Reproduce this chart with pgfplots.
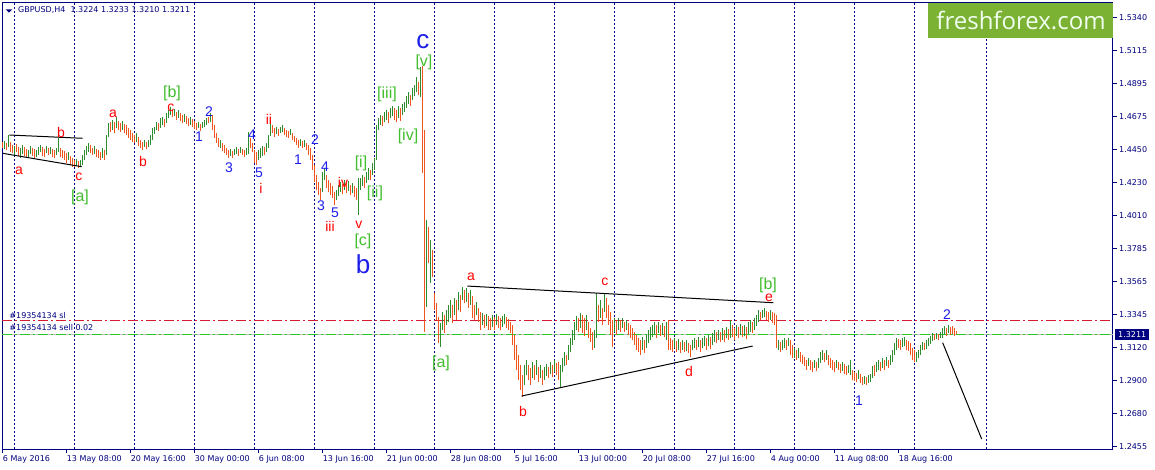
\documentclass[border=0pt]{standalone}
\usepackage{pgfplots}
\pgfplotsset{compat=1.18}
\usepackage{pgfplotstable}
\usepackage{fontspec}
\setmainfont{DejaVu Sans}
\newfontfamily\lab{Liberation Sans}
\newfontfamily\ffont{Open Sans}
\definecolor{navy}{RGB}{0,0,128}
\definecolor{barup}{RGB}{45,140,45}
\definecolor{bardn}{RGB}{240,85,30}
\definecolor{slred}{RGB}{215,25,50}
\definecolor{ordgreen}{RGB}{40,200,40}
\definecolor{wlgreen}{RGB}{65,190,45}
\definecolor{wlblue}{RGB}{30,30,235}
\definecolor{ffgreen}{RGB}{124,178,52}
\tikzset{
  rl/.style={text=red, font=\lab\fontsize{14bp}{14bp}\selectfont, inner sep=0pt},
  bn/.style={text=wlblue, font=\lab\fontsize{14bp}{14bp}\selectfont, inner sep=0pt},
  gl/.style={text=wlgreen, font=\lab\fontsize{16bp}{16bp}\selectfont, inner sep=0pt},
  BL/.style={text=wlblue, font=\lab\fontsize{26bp}{26bp}\selectfont, inner sep=0pt},
}

\pgfplotstableread{
i h l d
0 1.4502 1.4461 0
1 1.4509 1.4455 1
2 1.4495 1.4448 0
3 1.4549 1.4468 1
4 1.4502 1.4435 0
5 1.4482 1.4428 0
6 1.4475 1.4414 1
7 1.4488 1.4435 0
8 1.4468 1.4408 0
9 1.4461 1.4394 1
10 1.4482 1.4421 1
11 1.4468 1.4408 0
12 1.4455 1.4401 0
13 1.4448 1.4394 1
14 1.4475 1.4421 1
15 1.4461 1.4408 0
16 1.4455 1.4394 0
17 1.4448 1.4401 1
18 1.4468 1.4414 1
19 1.4482 1.4435 1
20 1.4468 1.4408 0
21 1.4455 1.4401 0
22 1.4475 1.4428 1
23 1.4461 1.4414 0
24 1.4468 1.4421 1
25 1.4455 1.4401 0
26 1.4448 1.4394 0
27 1.4461 1.4414 1
28 1.4529 1.4435 1
29 1.4461 1.4401 0
30 1.4448 1.4394 0
31 1.4441 1.4381 0
32 1.4428 1.4361 0
33 1.4435 1.4381 1
34 1.4408 1.4347 0
35 1.4394 1.4334 0
36 1.4381 1.4334 0
37 1.4387 1.4340 1
38 1.4374 1.4327 0
39 1.4381 1.4334 1
40 1.4414 1.4347 1
41 1.4448 1.4381 1
42 1.4475 1.4414 1
43 1.4495 1.4435 1
44 1.4482 1.4428 0
45 1.4461 1.4414 0
46 1.4475 1.4421 1
47 1.4455 1.4401 0
48 1.4448 1.4394 0
49 1.4435 1.4381 0
50 1.4461 1.4394 1
51 1.4448 1.4381 0
52 1.4549 1.4414 1
53 1.4629 1.4535 1
54 1.4636 1.4569 0
55 1.4650 1.4582 1
56 1.4636 1.4562 0
57 1.4670 1.4596 1
58 1.4643 1.4582 0
59 1.4629 1.4569 0
60 1.4643 1.4582 1
61 1.4623 1.4562 0
62 1.4616 1.4549 0
63 1.4596 1.4529 0
64 1.4582 1.4515 0
65 1.4562 1.4502 0
66 1.4549 1.4495 0
67 1.4562 1.4502 1
68 1.4535 1.4475 0
69 1.4515 1.4461 0
70 1.4502 1.4448 0
71 1.4515 1.4468 1
72 1.4502 1.4455 0
73 1.4515 1.4468 1
74 1.4549 1.4482 1
75 1.4596 1.4515 1
76 1.4603 1.4556 1
77 1.4636 1.4582 1
78 1.4629 1.4576 0
79 1.4663 1.4596 1
80 1.4670 1.4616 1
81 1.4656 1.4603 0
82 1.4697 1.4629 1
83 1.4717 1.4663 1
84 1.4737 1.4683 1
85 1.4717 1.4670 0
86 1.4724 1.4676 1
87 1.4703 1.4650 0
88 1.4717 1.4663 1
89 1.4697 1.4643 0
90 1.4683 1.4629 0
91 1.4690 1.4636 1
92 1.4676 1.4623 0
93 1.4663 1.4609 0
94 1.4670 1.4616 1
95 1.4656 1.4603 0
96 1.4643 1.4589 0
97 1.4629 1.4582 0
98 1.4636 1.4596 1
99 1.4623 1.4576 0
100 1.4636 1.4596 1
101 1.4650 1.4603 1
102 1.4663 1.4616 1
103 1.4670 1.4629 0
104 1.4697 1.4636 1
105 1.4683 1.4582 0
106 1.4616 1.4529 0
107 1.4562 1.4495 0
108 1.4529 1.4468 0
109 1.4515 1.4461 1
110 1.4495 1.4441 0
111 1.4482 1.4428 0
112 1.4461 1.4414 0
113 1.4448 1.4394 0
114 1.4455 1.4408 1
115 1.4441 1.4394 0
116 1.4455 1.4414 1
117 1.4468 1.4421 1
118 1.4455 1.4408 0
119 1.4468 1.4428 1
120 1.4455 1.4414 0
121 1.4448 1.4401 0
122 1.4461 1.4414 1
123 1.4569 1.4421 1
124 1.4529 1.4461 0
125 1.4495 1.4435 0
126 1.4448 1.4361 0
127 1.4435 1.4347 0
128 1.4448 1.4381 1
129 1.4461 1.4394 1
130 1.4475 1.4408 1
131 1.4468 1.4414 0
132 1.4495 1.4435 1
133 1.4549 1.4461 1
134 1.4650 1.4542 1
135 1.4616 1.4562 0
136 1.4596 1.4535 0
137 1.4603 1.4556 1
138 1.4589 1.4542 0
139 1.4603 1.4562 1
140 1.4616 1.4569 1
141 1.4596 1.4549 0
142 1.4582 1.4535 0
143 1.4576 1.4529 0
144 1.4589 1.4549 1
145 1.4562 1.4515 0
146 1.4542 1.4502 0
147 1.4529 1.4482 0
148 1.4515 1.4461 0
149 1.4522 1.4475 1
150 1.4509 1.4461 0
151 1.4515 1.4468 1
152 1.4495 1.4448 0
153 1.4482 1.4414 0
154 1.4461 1.4381 0
155 1.4414 1.4314 0
156 1.4347 1.4233 0
157 1.4280 1.4179 0
158 1.4233 1.4146 0
159 1.4193 1.4112 0
160 1.4300 1.4166 1
161 1.4327 1.4246 1
162 1.4280 1.4193 0
163 1.4246 1.4166 0
164 1.4226 1.4146 0
165 1.4206 1.4125 0
166 1.4166 1.4078 0
167 1.4179 1.4112 1
168 1.4213 1.4139 1
169 1.4233 1.4166 1
170 1.4219 1.4152 0
171 1.4246 1.4179 1
172 1.4226 1.4159 0
173 1.4240 1.4172 1
174 1.4213 1.4146 0
175 1.4226 1.4159 1
176 1.4206 1.4132 0
177 1.4193 1.4112 0
178 1.4260 1.4011 1
179 1.4260 1.4179 1
180 1.4280 1.4206 1
181 1.4266 1.4193 0
182 1.4300 1.4226 1
183 1.4327 1.4246 1
184 1.4314 1.4246 0
185 1.4361 1.4280 1
186 1.4394 1.4314 1
187 1.4616 1.4381 1
188 1.4663 1.4582 1
189 1.4683 1.4616 1
190 1.4676 1.4609 0
191 1.4703 1.4636 1
192 1.4717 1.4650 1
193 1.4703 1.4629 0
194 1.4730 1.4663 1
195 1.4744 1.4676 1
196 1.4730 1.4650 0
197 1.4717 1.4636 0
198 1.4744 1.4663 1
199 1.4730 1.4643 0
200 1.4757 1.4683 1
201 1.4771 1.4703 1
202 1.4811 1.4730 1
203 1.4838 1.4757 1
204 1.4818 1.4744 0
205 1.4865 1.4784 1
206 1.4885 1.4811 1
207 1.4939 1.4838 1
208 1.4905 1.4818 0
209 1.5006 1.4804 1
210 1.5012 1.4294 0
211 1.4582 1.3225 0
212 1.3978 1.3393 1
213 1.3931 1.3689 0
214 1.3843 1.3554 1
215 1.3776 1.3595 0
216 1.3487 1.3373 0
217 1.3420 1.3306 0
218 1.3326 1.3151 0
219 1.3285 1.3124 1
220 1.3359 1.3238 1
221 1.3339 1.3218 0
222 1.3373 1.3272 1
223 1.3406 1.3292 1
224 1.3440 1.3319 1
225 1.3406 1.3285 0
226 1.3453 1.3339 1
227 1.3440 1.3306 0
228 1.3494 1.3373 1
229 1.3474 1.3359 0
230 1.3527 1.3440 1
231 1.3507 1.3420 0
232 1.3520 1.3426 1
233 1.3487 1.3386 0
234 1.3507 1.3406 1
235 1.3467 1.3319 0
236 1.3406 1.3306 0
237 1.3426 1.3339 1
238 1.3386 1.3292 0
239 1.3359 1.3238 0
240 1.3353 1.3272 1
241 1.3339 1.3252 0
242 1.3346 1.3265 1
243 1.3332 1.3238 0
244 1.3319 1.3238 0
245 1.3339 1.3259 1
246 1.3326 1.3238 0
247 1.3346 1.3272 1
248 1.3332 1.3252 0
249 1.3319 1.3238 0
250 1.3332 1.3259 1
251 1.3346 1.3279 1
252 1.3326 1.3252 0
253 1.3312 1.3238 0
254 1.3292 1.3218 0
255 1.3272 1.3138 0
256 1.3205 1.3037 0
257 1.3138 1.2970 0
258 1.3070 1.2902 0
259 1.3003 1.2835 0
260 1.2936 1.2788 0
261 1.3003 1.2869 1
262 1.3037 1.2936 1
263 1.3003 1.2902 0
264 1.2983 1.2869 0
265 1.3023 1.2916 1
266 1.3003 1.2902 0
267 1.3037 1.2936 1
268 1.2990 1.2889 0
269 1.3003 1.2916 1
270 1.2970 1.2869 0
271 1.2990 1.2902 1
272 1.3010 1.2929 1
273 1.2990 1.2916 0
274 1.3023 1.2943 1
275 1.3003 1.2922 0
276 1.3037 1.2956 1
277 1.3017 1.2936 0
278 1.3023 1.2902 0
279 1.3003 1.2849 1
280 1.3050 1.2956 1
281 1.3091 1.2996 1
282 1.3070 1.3003 0
283 1.3138 1.3037 1
284 1.3185 1.3091 1
285 1.3238 1.3138 1
286 1.3292 1.3171 1
287 1.3332 1.3238 1
288 1.3319 1.3225 0
289 1.3353 1.3252 1
290 1.3339 1.3218 0
291 1.3319 1.3198 0
292 1.3339 1.3238 1
293 1.3292 1.3185 0
294 1.3252 1.3158 0
295 1.3225 1.3104 0
296 1.3238 1.3118 1
297 1.3487 1.3185 1
298 1.3406 1.3292 0
299 1.3440 1.3319 1
300 1.3386 1.3272 0
301 1.3487 1.3359 1
302 1.3453 1.3319 0
303 1.3406 1.3272 0
304 1.3359 1.3205 0
305 1.3306 1.3124 0
306 1.3319 1.3225 1
307 1.3306 1.3205 0
308 1.3319 1.3238 1
309 1.3306 1.3225 0
310 1.3319 1.3252 1
311 1.3292 1.3225 0
312 1.3306 1.3238 1
313 1.3285 1.3205 0
314 1.3272 1.3185 0
315 1.3252 1.3171 0
316 1.3225 1.3138 0
317 1.3205 1.3104 0
318 1.3185 1.3091 0
319 1.3171 1.3070 0
320 1.3191 1.3104 1
321 1.3171 1.3084 0
322 1.3205 1.3118 1
323 1.3238 1.3151 1
324 1.3259 1.3171 1
325 1.3272 1.3191 1
326 1.3292 1.3205 1
327 1.3272 1.3185 0
328 1.3292 1.3218 1
329 1.3272 1.3198 0
330 1.3285 1.3205 1
331 1.3265 1.3191 0
332 1.3292 1.3171 1
333 1.3306 1.3104 0
334 1.3185 1.3104 0
335 1.3171 1.3091 0
336 1.3185 1.3118 1
337 1.3165 1.3091 0
338 1.3178 1.3104 1
339 1.3158 1.3084 0
340 1.3171 1.3104 1
341 1.3158 1.3091 0
342 1.3171 1.3097 1
343 1.3151 1.3084 0
344 1.3138 1.3057 0
345 1.3171 1.3104 1
346 1.3185 1.3118 1
347 1.3171 1.3104 0
348 1.3191 1.3124 1
349 1.3171 1.3091 0
350 1.3185 1.3118 1
351 1.3198 1.3131 1
352 1.3185 1.3104 0
353 1.3205 1.3131 1
354 1.3191 1.3111 0
355 1.3218 1.3138 1
356 1.3238 1.3158 1
357 1.3225 1.3151 0
358 1.3238 1.3171 1
359 1.3225 1.3158 0
360 1.3252 1.3171 1
361 1.3238 1.3158 0
362 1.3259 1.3185 1
363 1.3245 1.3171 0
364 1.3306 1.3185 1
365 1.3272 1.3191 0
366 1.3252 1.3171 0
367 1.3272 1.3198 1
368 1.3259 1.3185 0
369 1.3279 1.3205 1
370 1.3265 1.3191 0
371 1.3272 1.3198 1
372 1.3259 1.3178 0
373 1.3292 1.3211 1
374 1.3306 1.3225 1
375 1.3292 1.3218 0
376 1.3319 1.3238 1
377 1.3339 1.3265 1
378 1.3373 1.3292 1
379 1.3359 1.3306 0
380 1.3373 1.3319 1
381 1.3386 1.3326 1
382 1.3366 1.3306 0
383 1.3359 1.3292 0
384 1.3373 1.3306 1
385 1.3359 1.3285 0
386 1.3353 1.3272 0
387 1.3339 1.3118 0
388 1.3171 1.3104 1
389 1.3158 1.3091 0
390 1.3171 1.3104 1
391 1.3185 1.3118 1
392 1.3171 1.3104 0
393 1.3185 1.3131 1
394 1.3171 1.3070 0
395 1.3138 1.3050 0
396 1.3118 1.3050 1
397 1.3104 1.3037 0
398 1.3118 1.3050 1
399 1.3091 1.3023 0
400 1.3070 1.3010 0
401 1.3057 1.2996 0
402 1.3037 1.2970 0
403 1.3050 1.2996 1
404 1.3037 1.2970 0
405 1.3023 1.2956 0
406 1.3037 1.2983 1
407 1.3023 1.2963 0
408 1.3050 1.2983 1
409 1.3091 1.3017 1
410 1.3104 1.3037 1
411 1.3084 1.3023 0
412 1.3104 1.3037 1
413 1.3070 1.3003 0
414 1.3050 1.2983 0
415 1.3037 1.2970 0
416 1.3023 1.2956 0
417 1.3037 1.2983 1
418 1.3023 1.2970 0
419 1.3010 1.2950 0
420 1.3023 1.2963 1
421 1.3010 1.2943 0
422 1.2996 1.2936 0
423 1.3003 1.2950 1
424 1.3037 1.2936 1
425 1.2970 1.2902 0
426 1.2956 1.2896 0
427 1.2950 1.2889 0
428 1.2970 1.2909 1
429 1.2943 1.2882 0
430 1.2922 1.2869 0
431 1.2929 1.2875 1
432 1.2922 1.2869 0
433 1.2936 1.2882 1
434 1.2943 1.2889 1
435 1.2996 1.2916 1
436 1.3003 1.2929 0
437 1.3023 1.2956 1
438 1.3037 1.2970 1
439 1.3023 1.2963 0
440 1.3050 1.2983 1
441 1.3037 1.2970 0
442 1.3057 1.2996 1
443 1.3037 1.2983 0
444 1.3070 1.3003 1
445 1.3104 1.3023 1
446 1.3151 1.3070 1
447 1.3185 1.3104 1
448 1.3178 1.3118 0
449 1.3171 1.3104 0
450 1.3185 1.3124 1
451 1.3191 1.3131 1
452 1.3171 1.3104 0
453 1.3165 1.3097 0
454 1.3151 1.3070 0
455 1.3118 1.3037 0
456 1.3104 1.3023 0
457 1.3091 1.3023 1
458 1.3104 1.3050 1
459 1.3138 1.3070 1
460 1.3158 1.3104 1
461 1.3151 1.3104 0
462 1.3171 1.3111 1
463 1.3185 1.3131 1
464 1.3198 1.3145 1
465 1.3218 1.3165 1
466 1.3211 1.3171 0
467 1.3218 1.3178 1
468 1.3211 1.3171 0
469 1.3225 1.3185 1
470 1.3252 1.3185 1
471 1.3265 1.3211 1
472 1.3252 1.3198 0
473 1.3272 1.3218 1
474 1.3259 1.3205 0
475 1.3265 1.3211 0
476 1.3252 1.3198 0
477 1.3233 1.3210 0
}\bars

\begin{document}
\begin{tikzpicture}
\path[use as bounding box, fill=white] (0,0) rectangle (1155bp,470bp);
\begin{axis}[
  scale only axis, width=1111bp, height=446bp,
  at={(2bp,21bp)}, anchor=south west,
  xmin=-0.35, xmax=555.15, ymin=1.24390, ymax=1.54361,
  clip=false,
  axis line style={draw=navy, line width=1bp},
  tick style={draw=navy, line width=1bp},
  major tick length=4bp, tick align=outside,
  xtick pos=bottom, ytick pos=right, yticklabel pos=right,
  xtick={0,32,...,448},
  xticklabels={6 May 2016,13 May 08:00,20 May 16:00,30 May 00:00,6 Jun 08:00,13 Jun 16:00,21 Jun 00:00,28 Jun 08:00,5 Jul 16:00,13 Jul 00:00,20 Jul 08:00,27 Jul 16:00,4 Aug 00:00,11 Aug 08:00,18 Aug 16:00},
  xticklabel style={anchor=north west, inner sep=0pt, text=navy, font=\fontsize{8bp}{9bp}\selectfont, yshift=-2bp},
  ytick={1.5340,1.5115,1.4895,1.4675,1.4450,1.4230,1.4010,1.3785,1.3565,1.3345,1.3120,1.2900,1.2680,1.2455},
  yticklabels={1.5340,1.5115,1.4895,1.4675,1.4450,1.4230,1.4010,1.3785,1.3565,1.3345,1.3120,1.2900,1.2680,1.2455},
  yticklabel style={anchor=west, inner sep=0pt, text=navy, font=\fontsize{8bp}{9bp}\selectfont, xshift=2bp},
  extra x ticks={6,36,66,96,126,156,186,216,246,276,306,336,366,396,426,456,492},
  extra x tick labels={},
  extra x tick style={grid=major, major tick length=0pt},
  major grid style={draw=navy, line width=1bp, dash pattern=on 2bp off 2bp},
  /pgf/number format/assume math mode=true,
]
% order lines
\addplot[draw=black!25, line width=1bp, forget plot] coordinates {(-0.35,1.3210) (555.15,1.3210)};
\addplot[draw=ordgreen, line width=1bp, dash pattern=on 10bp off 3bp on 2bp off 3bp, forget plot] coordinates {(-0.35,1.3210) (555.15,1.3210)};
\addplot[draw=slred, line width=1bp, dash pattern=on 10bp off 3bp on 2bp off 3bp, forget plot] coordinates {(-0.35,1.3301) (555.15,1.3301)};
% bars
\addplot[draw=none, mark=none, forget plot,
  restrict expr to domain={\thisrow{d}}{0.5:1.5},
  error bars/.cd, y dir=plus, y explicit, error mark=none,
  error bar style={draw=barup, line width=0.9bp}]
  table[x=i, y=l, y error expr=\thisrow{h}-\thisrow{l}]{\bars};
\addplot[draw=none, mark=none, forget plot,
  restrict expr to domain={\thisrow{d}}{-0.5:0.5},
  error bars/.cd, y dir=plus, y explicit, error mark=none,
  error bar style={draw=bardn, line width=0.9bp}]
  table[x=i, y=l, y error expr=\thisrow{h}-\thisrow{l}]{\bars};
% trend lines
\addplot[black, line width=1bp] coordinates {(3.3,1.4549) (39.9,1.4527)};
\addplot[black, line width=1bp] coordinates {(0,1.4426) (39.5,1.4336)};
\addplot[black, line width=1bp] coordinates {(232.3,1.3534) (385.3,1.3422)};
\addplot[black, line width=1bp] coordinates {(259.5,1.2795) (375,1.3131)};
\addplot[black, line width=1bp] coordinates {(470,1.3153) (489.5,1.2506)};
% order labels
\node[anchor=west, inner sep=0pt, text=navy, font=\fontsize{8bp}{9bp}\selectfont] at (axis cs:3.3,1.3339) {\#19354134 sl};
\node[anchor=west, inner sep=0pt, text=navy, font=\fontsize{8bp}{9bp}\selectfont] at (axis cs:3.3,1.3252) {\#19354134 sell 0.02};
% red labels
\node[rl] at (axis cs:8.15,1.4307) {a};
\node[rl] at (axis cs:29.15,1.4569) {b};
\node[rl] at (axis cs:38.15,1.4267) {c};
\node[rl] at (axis cs:55.15,1.4690) {a};
\node[rl] at (axis cs:70.15,1.4368) {b};
\node[rl] at (axis cs:84.15,1.4730) {c};
\node[rl] at (axis cs:129.15,1.4193) {i};
\node[rl] at (axis cs:133.15,1.4657) {ii};
\node[rl] at (axis cs:163.65,1.3938) {iii};
\node[rl] at (axis cs:170.15,1.4233) {iv};
\node[rl] at (axis cs:178.15,1.3944) {v};
\node[rl] at (axis cs:234.15,1.3595) {a};
\node[rl] at (axis cs:260.15,1.2688) {b};
\node[rl] at (axis cs:301.15,1.3561) {c};
\node[rl] at (axis cs:343.15,1.2957) {d};
\node[rl] at (axis cs:383.15,1.3454) {e};
% blue numbers
\node[bn] at (axis cs:98.15,1.4536) {1};
\node[bn] at (axis cs:103.15,1.4704) {2};
\node[bn] at (axis cs:113.15,1.4327) {3};
\node[bn] at (axis cs:124.65,1.4549) {4};
\node[bn] at (axis cs:128.15,1.4294) {5};
\node[bn] at (axis cs:147.65,1.4381) {1};
\node[bn] at (axis cs:156.15,1.4516) {2};
\node[bn] at (axis cs:159.15,1.4072) {3};
\node[bn] at (axis cs:161.15,1.4334) {4};
\node[bn] at (axis cs:166.15,1.4025) {5};
\node[bn] at (axis cs:428.15,1.2762) {1};
\node[bn] at (axis cs:472.15,1.3340) {2};
% green labels
\node[gl] at (axis cs:38.65,1.4133) {[a]};
\node[gl] at (axis cs:84.65,1.4832) {[b]};
\node[gl] at (axis cs:179.15,1.4361) {[i]};
\node[gl] at (axis cs:186.15,1.4159) {[ii]};
\node[gl] at (axis cs:192.15,1.4825) {[iii]};
\node[gl] at (axis cs:202.65,1.4542) {[iv]};
\node[gl] at (axis cs:210.65,1.5040) {[v]};
\node[gl] at (axis cs:180.15,1.3837) {[c]};
\node[gl] at (axis cs:219.15,1.3017) {[a]};
\node[gl] at (axis cs:382.65,1.3541) {[b]};
% big blue
\node[BL] at (axis cs:210.15,1.5174) {c};
\node[BL] at (axis cs:180.15,1.3682) {b};
\end{axis}
% header
\fill[navy] (5.7bp,460.7bp) -- (12.3bp,460.7bp) -- (9bp,457.3bp) -- cycle;
\node[anchor=west, inner sep=0pt, text=navy, font=\fontsize{8bp}{9bp}\selectfont] at (18bp,459.5bp) {GBPUSD,H4\ \ 1.3224 1.3233 1.3210 1.3211};
% watermark
\fill[ffgreen] (928bp,432.3bp) rectangle (1112.5bp,466.5bp);
\node[text=white!94!green, font=\ffont\fontsize{24bp}{24bp}\selectfont, inner sep=0pt] at (1021bp,450bp) {freshforex.com};
% current price box
\node[fill=navy, text=white, anchor=west, inner xsep=3bp, inner ysep=2.5bp, font=\fontsize{8bp}{9bp}\selectfont] at (1115bp,135.7bp) {1.3211};
\end{tikzpicture}
\end{document}
